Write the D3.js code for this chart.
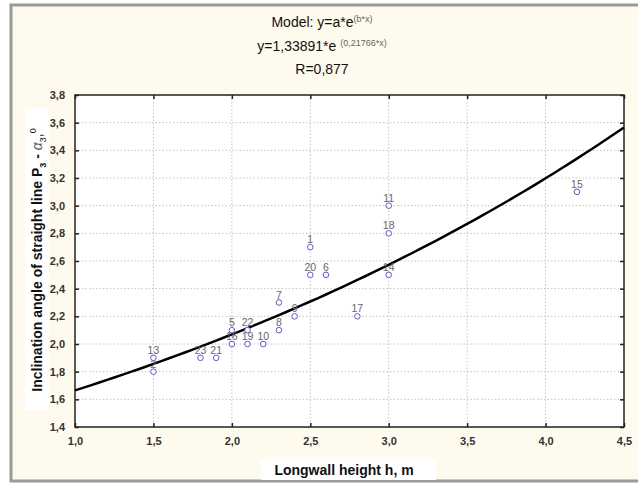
<!DOCTYPE html>
<html>
<head>
<meta charset="utf-8">
<script src="https://cdn.jsdelivr.net/npm/d3@7"></script>
<style>
  html, body { margin: 0; padding: 0; background: #ffffff; }
  svg { display: block; font-family: "Liberation Sans", Arial, sans-serif; }
</style>
</head>
<body>
<svg id="chart" width="638" height="490"></svg>
<script>
// model parameters (from the fitted equation in the title)
const modelA = 1.33891;
const modelB = 0.21766;
const modelR = "0,877";

// observations: id, longwall height h (m), inclination angle
const pointIds = [1, 2, 5, 6, 7, 8, 9, 10, 11, 13, 14, 15, 16, 17, 18, 19, 20, 21, 22, 23];
const heights = [2.5, 1.5, 2.0, 2.6, 2.3, 2.3, 2.4, 2.2, 3.0, 1.5, 3.0, 4.2, 2.0, 2.8, 3.0, 2.1, 2.5, 1.9, 2.1, 1.8];
const angles = [2.7, 1.8, 2.1, 2.5, 2.3, 2.1, 2.2, 2.0, 3.0, 1.9, 2.5, 3.1, 2.0, 2.2, 2.8, 2.0, 2.5, 1.9, 2.1, 1.9];

const xTicks = [1.0, 1.5, 2.0, 2.5, 3.0, 3.5, 4.0, 4.5];
const yTicks = [1.4, 1.6, 1.8, 2.0, 2.2, 2.4, 2.6, 2.8, 3.0, 3.2, 3.4, 3.6, 3.8];

const svg = d3.select("#chart");
const plot = { left: 75, right: 624, top: 95, bottom: 427 };

const fmt = (v) => d3.format(".1f")(v).replace(".", ",");

// outer frame
svg.append("rect")
  .attr("x", 11).attr("y", 5)
  .attr("width", 640).attr("height", 476)
  .attr("fill", "#fffaee")
  .attr("stroke", "#9a9a9a")
  .attr("stroke-width", 3);

const x = d3.scaleLinear().domain([1.0, 4.5]).range([plot.left, plot.right]);
const y = d3.scaleLinear().domain([1.4, 3.8]).range([plot.bottom, plot.top]);

// plot background
svg.append("rect")
  .attr("x", plot.left).attr("y", plot.top)
  .attr("width", plot.right - plot.left).attr("height", plot.bottom - plot.top)
  .attr("fill", "#ffffff");

// grid
const grid = svg.append("g").attr("stroke", "#c4c4c4").attr("stroke-dasharray", "1.5,2").attr("stroke-width", 1);
grid.selectAll("line.gx")
  .data(xTicks.slice(1, -1))
  .join("line")
  .attr("x1", (d) => x(d)).attr("x2", (d) => x(d))
  .attr("y1", plot.top).attr("y2", plot.bottom);
grid.selectAll("line.gy")
  .data(yTicks.slice(1, -1))
  .join("line")
  .attr("y1", (d) => y(d)).attr("y2", (d) => y(d))
  .attr("x1", plot.left).attr("x2", plot.right);

// axes
const xAxis = svg.append("g")
  .attr("transform", `translate(0,${plot.bottom})`)
  .call(d3.axisBottom(x).tickValues(xTicks).tickFormat(fmt).tickSizeInner(-4).tickSizeOuter(0).tickPadding(10));
const yAxis = svg.append("g")
  .attr("transform", `translate(${plot.left},0)`)
  .call(d3.axisLeft(y).tickValues(yTicks).tickFormat(fmt).tickSizeInner(-4).tickSizeOuter(0).tickPadding(10));
const xTop = svg.append("g")
  .attr("transform", `translate(0,${plot.top})`)
  .call(d3.axisTop(x).tickValues(xTicks).tickFormat("").tickSizeInner(-4).tickSizeOuter(0));
const yRight = svg.append("g")
  .attr("transform", `translate(${plot.right},0)`)
  .call(d3.axisRight(y).tickValues(yTicks).tickFormat("").tickSizeInner(-4).tickSizeOuter(0));

[xAxis, yAxis, xTop, yRight].forEach((g) => {
  g.select(".domain").remove();
  g.selectAll(".tick line").attr("stroke", "#222").attr("stroke-width", 1.5);
  g.selectAll(".tick text")
    .attr("fill", "#333")
    .attr("font-size", "11px")
    .attr("font-weight", "bold")
    .attr("font-family", "'Liberation Sans', Arial, sans-serif");
});

svg.append("rect")
  .attr("x", plot.left).attr("y", plot.top)
  .attr("width", plot.right - plot.left).attr("height", plot.bottom - plot.top)
  .attr("fill", "none")
  .attr("stroke", "#222")
  .attr("stroke-width", 1.5);

// fitted curve y = a*e^(b*x)
const curveX = d3.range(0, 71).map((i) => 1.0 + i * 0.05);
const line = d3.line().x((d) => x(d)).y((d) => y(modelA * Math.exp(modelB * d)));
svg.append("path")
  .datum(curveX)
  .attr("d", line)
  .attr("fill", "none")
  .attr("stroke", "#000")
  .attr("stroke-width", 2.5);

// points
const points = pointIds.map((id, i) => ({ id, h: heights[i], a: angles[i] }));
const pts = svg.append("g");
pts.selectAll("text")
  .data(points)
  .join("text")
  .attr("x", (d) => x(d.h))
  .attr("y", (d) => y(d.a) - 4)
  .attr("text-anchor", "middle")
  .attr("font-size", "10.5px")
  .attr("fill", "#666")
  .text((d) => d.id);
pts.selectAll("circle")
  .data(points)
  .join("circle")
  .attr("cx", (d) => x(d.h))
  .attr("cy", (d) => y(d.a))
  .attr("r", 2.8)
  .attr("fill", "#fff")
  .attr("stroke", "#5a5acc")
  .attr("stroke-width", 1);

// title
const title = svg.append("g").attr("font-size", "14px").attr("fill", "#111").attr("text-anchor", "middle");
const t1 = title.append("text").attr("x", 322).attr("y", 27);
t1.append("tspan").text("Model: y=a*e");
t1.append("tspan").attr("dy", -5).attr("font-size", "9px").attr("fill", "#666").text("(b*x)");
const t2 = title.append("text").attr("x", 322).attr("y", 51);
t2.append("tspan").text("y=1,33891*e ");
t2.append("tspan").attr("dy", -5).attr("font-size", "9px").attr("fill", "#666").text("(0,21766*x)");
title.append("text").attr("x", 322).attr("y", 74).text("R=" + modelR);

// axis titles
svg.append("rect").attr("x", 261).attr("y", 459).attr("width", 175).attr("height", 21).attr("fill", "#fff");
svg.append("text")
  .attr("x", 344).attr("y", 475)
  .attr("text-anchor", "middle")
  .attr("font-size", "14px")
  .attr("font-weight", "bold")
  .attr("fill", "#111")
  .text("Longwall height h, m");

svg.append("rect").attr("x", 25).attr("y", 108).attr("width", 24).attr("height", 302).attr("fill", "#fff");
const yl = svg.append("text")
  .attr("transform", "translate(42,260) rotate(-90)")
  .attr("text-anchor", "middle")
  .attr("font-size", "14px")
  .attr("font-weight", "bold")
  .attr("fill", "#111");
yl.append("tspan").text("Inclination angle of straight line P");
yl.append("tspan").attr("dy", 4).attr("font-size", "9px").text("3");
yl.append("tspan").attr("dy", -4).text(" - ");
yl.append("tspan").attr("font-style", "italic").attr("font-weight", "normal").attr("fill", "#555").text("α");
yl.append("tspan").attr("dy", 4).attr("font-size", "9px").attr("font-weight", "normal").text("3");
yl.append("tspan").attr("dy", -4).attr("font-weight", "normal").text(",");
yl.append("tspan").attr("dy", -6).attr("font-size", "9px").attr("font-weight", "normal").text("0");
</script>
</body>
</html>
